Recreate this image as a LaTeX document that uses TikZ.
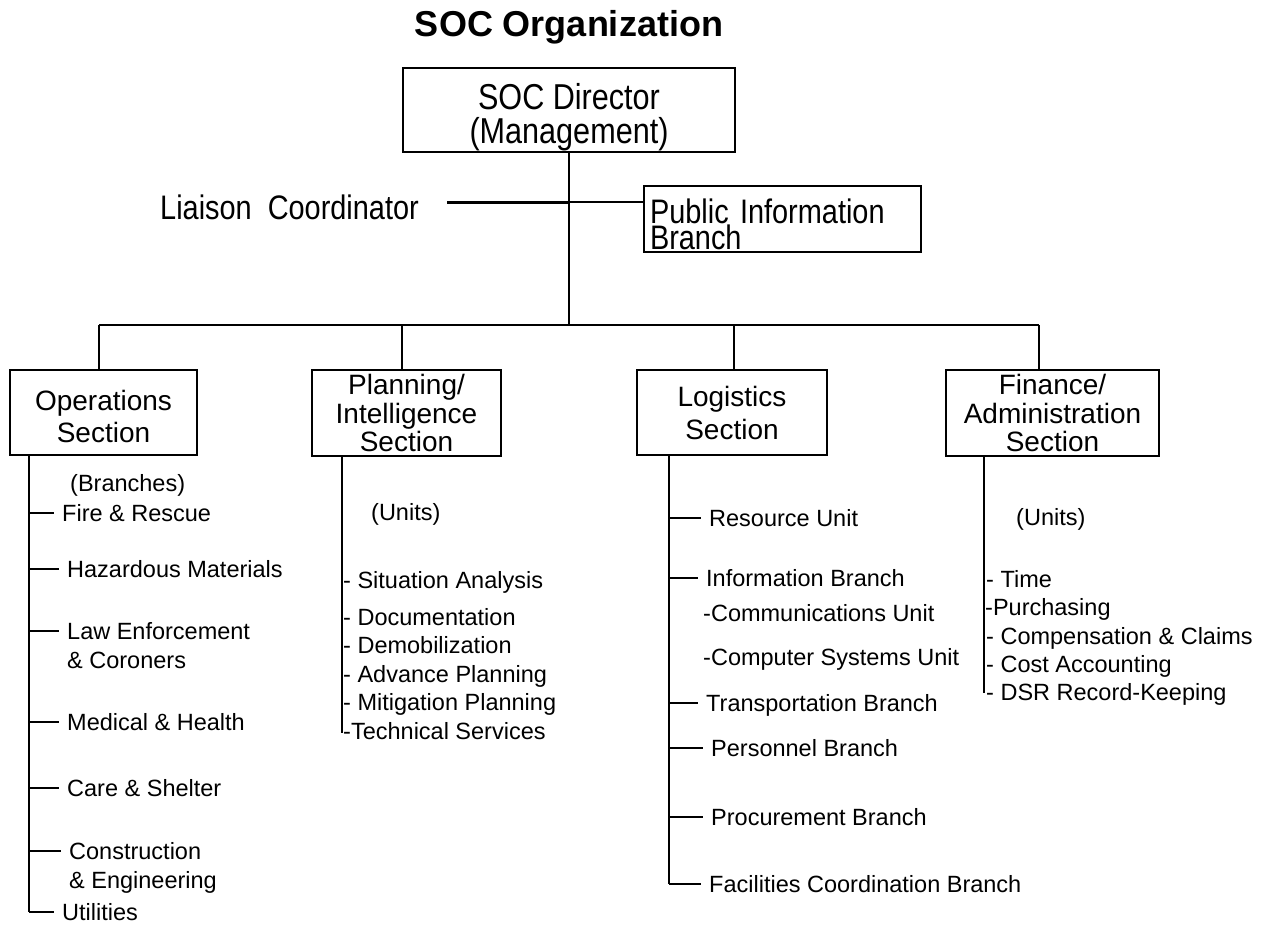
\documentclass[tikz,border=0pt]{standalone}
\usepackage{fontspec}
\setmainfont{Liberation Sans}
\newfontfamily\narrowfont[FakeStretch=0.85]{Liberation Sans}

\begin{document}
\begin{tikzpicture}[x=1pt,y=-1pt,
		box/.style={draw,line width=2.5pt,inner sep=0pt,align=center,font=\fontsize{28}{30}\selectfont},
		item/.style={anchor=west,inner xsep=8pt,inner ysep=0pt,text height=17pt,text depth=0pt,font=\fontsize{23.5}{29}\selectfont},
		unit/.style={item,inner xsep=0pt},
		line/.style={line width=2pt}]
		
		\useasboundingbox (0,0) rectangle (1263,924);
		
		\node[font=\bfseries\fontsize{36}{36}\selectfont] (title) at (569,27) {SOC Organization};
		\node[box,minimum width=332pt,minimum height=84pt,text height=66pt,text depth=0pt,font=\narrowfont\fontsize{36}{34}\selectfont] (dir) at (569,110) {SOC Director\\(Management)};
		\node[box,align=left,text width=265pt,inner xsep=6pt,minimum height=66pt,text depth=15pt,font=\narrowfont\fontsize{34}{26}\selectfont] (pib) at (782.5,219) {Public Information\\Branch};
		\node[anchor=west,inner sep=0pt,font=\narrowfont\fontsize{34}{34}\selectfont] (liaison) at (160,207) {Liaison\ \ Coordinator};
		\coordinate (lc) at (447,202);
		
		\draw[line width=3pt] (lc) -- (lc -| dir.south);
		\draw[line width=1.5pt] (lc -| dir.south) -- (lc -| pib.west);
		
		\node[box,minimum width=187pt,minimum height=85pt,text height=60pt,text depth=0pt,font=\fontsize{28}{32}\selectfont] (ops) at (103.5,412.5) {Operations\\Section};
		\node[box,minimum width=189pt,minimum height=86pt,font=\fontsize{28}{28.5}\selectfont] (pla) at (406.5,413) {Planning/\\Intelligence\\Section};
		\node[box,minimum width=190pt,minimum height=85pt,font=\fontsize{28}{33}\selectfont] (log) at (732,412.5) {Logistics\\Section};
		\node[box,minimum width=213pt,minimum height=86pt,font=\fontsize{28}{28.5}\selectfont] (fin) at (1052.5,413) {Finance/\\Administration\\Section};
		
		\coordinate (bus) at (569,325);
		\coordinate (b1) at (99,325);
		\coordinate (b2) at (402,325);
		\coordinate (b3) at (734,325);
		\coordinate (b4) at (1039,325);
		
		\draw[line] (dir.south) -- (bus);
		\draw[line] (b1) -- (b4);
		\draw[line] (b1) -- (b1 |- ops.north);
		\draw[line] (b2) -- (b2 |- pla.north);
		\draw[line] (b3) -- (b3 |- log.north);
		\draw[line] (b4) -- (b4 |- fin.north);
		
		\node[unit] (obr) at (70,483) {(Branches)};
		\node[item] (fire) at (54,513) {Fire \& Rescue};
		\node[item] (haz) at (59,569) {Hazardous Materials};
		\node[item] (law) at (59,631) {\vtop{\hbox{Law Enforcement}\hbox{\& Coroners}}};
		\node[item] (med) at (59,722) {Medical \& Health};
		\node[item] (care) at (59,788) {Care \& Shelter};
		\node[item] (cons) at (61,851) {\vtop{\hbox{Construction}\hbox{\& Engineering}}};
		\node[item] (util) at (54,912) {Utilities};
		\coordinate (opsend) at (29,912);
		
		\draw[line] (opsend |- ops.south) -- (opsend);
		\foreach \n in {fire,haz,law,med,care,cons,util}
		\draw[line] (opsend |- \n.west) -- (\n.west);
		
		\node[unit] (pun) at (371,512) {(Units)};
		\node[unit] (sit) at (343,580) {- Situation Analysis};
		\node[unit] (doc) at (343,617) {- Documentation};
		\node[unit] (dem) at (343,645) {- Demobilization};
		\node[unit] (adv) at (343,674) {- Advance Planning};
		\node[unit] (mit) at (343,702) {- Mitigation Planning};
		\node[unit] (tec) at (343,731) {-Technical Services};
		\coordinate (plaend) at (342,733);
		
		\draw[line] (plaend |- pla.south) -- (plaend);
		
		\node[item] (res) at (701,518) {Resource Unit};
		\node[item] (info) at (698,578) {Information Branch};
		\node[unit] (comm) at (703,613) {-Communications Unit};
		\node[unit] (comp) at (703,657) {-Computer Systems Unit};
		\node[item] (trans) at (698,703) {Transportation Branch};
		\node[item] (pers) at (703,748) {Personnel Branch};
		\node[item] (proc) at (703,817) {Procurement Branch};
		\node[item] (fac) at (701,884) {Facilities Coordination Branch};
		\coordinate (logend) at (669,884);
		
		\draw[line] (logend |- log.south) -- (logend);
		\foreach \n in {res,info,trans,pers,proc,fac}
		\draw[line] (logend |- \n.west) -- (\n.west);
		
		\node[unit] (fun) at (1016,517) {(Units)};
		\node[unit] (time) at (986,579) {- Time};
		\node[unit] (pur) at (985,607) {-Purchasing};
		\node[unit] (cla) at (986,636) {- Compensation \& Claims};
		\node[unit] (cost) at (986,664) {- Cost Accounting};
		\node[unit] (dsr) at (986,692) {- DSR Record-Keeping};
		\coordinate (finend) at (984,693);
		
		\draw[line] (finend |- fin.south) -- (finend);
		
\end{tikzpicture}
\end{document}
